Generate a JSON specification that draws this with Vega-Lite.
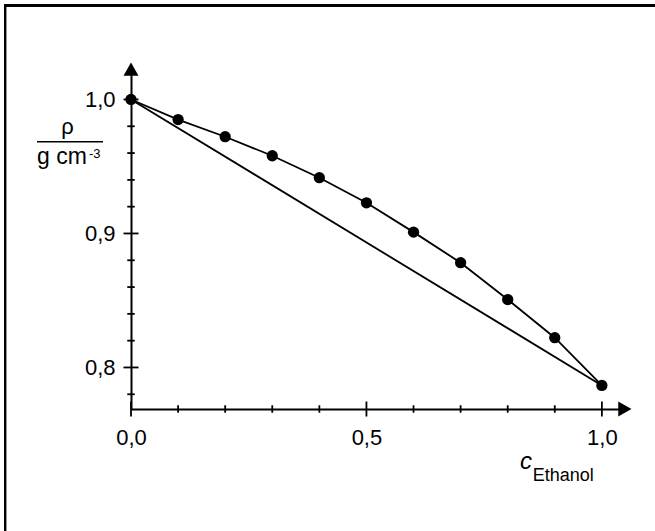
{
  "$schema": "https://vega.github.io/schema/vega-lite/v6.json",
  "width": 493,
  "height": 339,
  "autosize": {"type": "none"},
  "padding": {"left": 131, "top": 70, "right": 31, "bottom": 122},
  "background": "white",
  "config": {
    "view": {"stroke": null},
    "font": "Liberation Sans",
    "axis": {
      "title": null, "grid": false, "ticks": false, "tickSize": 0,
      "domain": true, "domainColor": "black", "domainWidth": 2,
      "labelFont": "Liberation Sans", "labelFontSize": 22, "labelColor": "black",
      "labelFlush": false, "labelOverlap": false, "labelBound": false
    },
    "axisX": {"labelPadding": 18},
    "axisY": {"labelPadding": 16}
  },
  "datasets": {
    "pts": [
      {"c": 0.0, "rho": 1.0, "series": "measured"},
      {"c": 0.1, "rho": 0.985, "series": "measured"},
      {"c": 0.2, "rho": 0.9722, "series": "measured"},
      {"c": 0.3, "rho": 0.9580, "series": "measured"},
      {"c": 0.4, "rho": 0.9416, "series": "measured"},
      {"c": 0.5, "rho": 0.9229, "series": "measured"},
      {"c": 0.6, "rho": 0.9010, "series": "measured"},
      {"c": 0.7, "rho": 0.8782, "series": "measured"},
      {"c": 0.8, "rho": 0.8507, "series": "measured"},
      {"c": 0.9, "rho": 0.8222, "series": "measured"},
      {"c": 1.0, "rho": 0.7866, "series": "measured"},
      {"c": 0.0, "rho": 1.0, "series": "linear"},
      {"c": 1.0, "rho": 0.7866, "series": "linear"}
    ],
    "yticks": [
      {"v": 0.78, "kind": "minor"},
      {"v": 0.80, "kind": "major"},
      {"v": 0.82, "kind": "minor"},
      {"v": 0.84, "kind": "minor"},
      {"v": 0.86, "kind": "minor"},
      {"v": 0.88, "kind": "minor"},
      {"v": 0.90, "kind": "major"},
      {"v": 0.92, "kind": "minor"},
      {"v": 0.94, "kind": "minor"},
      {"v": 0.96, "kind": "minor"},
      {"v": 0.98, "kind": "minor"},
      {"v": 1.00, "kind": "major"}
    ],
    "xticks": [
      {"v": 0.0, "kind": "major"},
      {"v": 0.1, "kind": "minor"},
      {"v": 0.2, "kind": "minor"},
      {"v": 0.3, "kind": "minor"},
      {"v": 0.4, "kind": "minor"},
      {"v": 0.5, "kind": "major"},
      {"v": 0.6, "kind": "minor"},
      {"v": 0.7, "kind": "minor"},
      {"v": 0.8, "kind": "minor"},
      {"v": 0.9, "kind": "minor"},
      {"v": 1.0, "kind": "major"}
    ]
  },
  "layer": [
    {
      "data": {"name": "pts"},
      "mark": {"type": "line", "color": "black", "strokeWidth": 1.8, "clip": false},
      "encoding": {
        "x": {
          "field": "c", "type": "quantitative",
          "scale": {"domain": [0, 1.047], "nice": false, "zero": false},
          "axis": {
            "values": [0, 0.5, 1.0],
            "labelExpr": "replace(format(datum.value, '.1f'), '.', ',')"
          }
        },
        "y": {
          "field": "rho", "type": "quantitative",
          "scale": {"domain": [0.769, 1.022], "nice": false, "zero": false},
          "axis": {
            "values": [0.8, 0.9, 1.0],
            "labelExpr": "replace(format(datum.value, '.1f'), '.', ',')"
          }
        },
        "detail": {"field": "series", "type": "nominal"},
        "order": {"field": "c", "type": "quantitative"}
      }
    },
    {
      "data": {"name": "pts"},
      "mark": {"type": "rect", "fill": null, "stroke": "black", "strokeWidth": 2, "clip": false},
      "encoding": {
        "x": {"datum": -0.2675, "type": "quantitative", "scale": {"domain": [0, 1.047], "nice": false, "zero": false}},
        "x2": {"datum": 2},
        "y": {"datum": 1.0703, "type": "quantitative", "scale": {"domain": [0.769, 1.022], "nice": false, "zero": false}},
        "y2": {"datum": 0.3}
      }
    },
    {
      "data": {"name": "pts"},
      "transform": [{"filter": "datum.series === 'measured'"}],
      "mark": {"type": "point", "filled": true, "shape": "circle", "size": 127, "color": "black", "opacity": 1, "clip": false},
      "encoding": {
        "x": {"field": "c", "type": "quantitative", "scale": {"domain": [0, 1.047], "nice": false, "zero": false}},
        "y": {"field": "rho", "type": "quantitative", "scale": {"domain": [0.769, 1.022], "nice": false, "zero": false}}
      }
    },
    {
      "data": {"name": "yticks"},
      "mark": {"type": "point", "shape": "M-1,0L1,0", "filled": false, "stroke": "black", "strokeWidth": 1.8, "opacity": 1, "clip": false},
      "encoding": {
        "x": {"datum": 0, "type": "quantitative", "scale": {"domain": [0, 1.047], "nice": false, "zero": false}},
        "y": {"field": "v", "type": "quantitative", "scale": {"domain": [0.769, 1.022], "nice": false, "zero": false}},
        "size": {"field": "kind", "type": "nominal", "scale": {"domain": ["major", "minor"], "range": [225, 56]}, "legend": null}
      }
    },
    {
      "data": {"name": "xticks"},
      "mark": {"type": "point", "shape": "M0,-1L0,1", "filled": false, "stroke": "black", "strokeWidth": 1.8, "opacity": 1, "clip": false},
      "encoding": {
        "x": {"field": "v", "type": "quantitative", "scale": {"domain": [0, 1.047], "nice": false, "zero": false}},
        "y": {"datum": 0.769, "type": "quantitative", "scale": {"domain": [0.769, 1.022], "nice": false, "zero": false}},
        "size": {"field": "kind", "type": "nominal", "scale": {"domain": ["major", "minor"], "range": [225, 56]}, "legend": null}
      }
    },
    {
      "data": {"values": [{}]},
      "mark": {"type": "point", "shape": "M0,-1L1,0.77L-1,0.77Z", "filled": true, "color": "black", "size": 225, "opacity": 1, "clip": false},
      "encoding": {
        "x": {"datum": 0, "type": "quantitative", "scale": {"domain": [0, 1.047], "nice": false, "zero": false}},
        "y": {"datum": 1.022, "type": "quantitative", "scale": {"domain": [0.769, 1.022], "nice": false, "zero": false}}
      }
    },
    {
      "data": {"values": [{}]},
      "mark": {"type": "point", "shape": "M1,0L-0.77,1L-0.77,-1Z", "filled": true, "color": "black", "size": 225, "opacity": 1, "clip": false},
      "encoding": {
        "x": {"datum": 1.047, "type": "quantitative", "scale": {"domain": [0, 1.047], "nice": false, "zero": false}},
        "y": {"datum": 0.769, "type": "quantitative", "scale": {"domain": [0.769, 1.022], "nice": false, "zero": false}}
      }
    },
    {
      "data": {"values": [{}]},
      "mark": {"type": "rule", "color": "black", "strokeWidth": 1.5, "clip": false},
      "encoding": {
        "x": {"datum": -0.1996, "type": "quantitative", "scale": {"domain": [0, 1.047], "nice": false, "zero": false}},
        "x2": {"datum": -0.0594},
        "y": {"datum": 0.9684, "type": "quantitative", "scale": {"domain": [0.769, 1.022], "nice": false, "zero": false}}
      }
    },
    {
      "data": {"values": [{}]},
      "mark": {"type": "text", "text": "ρ", "font": "Liberation Sans", "fontSize": 22, "align": "center", "baseline": "alphabetic", "color": "black", "clip": false},
      "encoding": {
        "x": {"datum": -0.1348, "type": "quantitative", "scale": {"domain": [0, 1.047], "nice": false, "zero": false}},
        "y": {"datum": 0.9746, "type": "quantitative", "scale": {"domain": [0.769, 1.022], "nice": false, "zero": false}}
      }
    },
    {
      "data": {"values": [{}]},
      "mark": {"type": "text", "text": "g cm", "font": "Liberation Sans", "fontSize": 23, "align": "left", "baseline": "alphabetic", "color": "black", "clip": false},
      "encoding": {
        "x": {"datum": -0.1996, "type": "quantitative", "scale": {"domain": [0, 1.047], "nice": false, "zero": false}},
        "y": {"datum": 0.9522, "type": "quantitative", "scale": {"domain": [0.769, 1.022], "nice": false, "zero": false}}
      }
    },
    {
      "data": {"values": [{}]},
      "mark": {"type": "text", "text": "-3", "font": "Liberation Sans", "fontSize": 13, "align": "left", "baseline": "alphabetic", "color": "black", "clip": false},
      "encoding": {
        "x": {"datum": -0.0892, "type": "quantitative", "scale": {"domain": [0, 1.047], "nice": false, "zero": false}},
        "y": {"datum": 0.956, "type": "quantitative", "scale": {"domain": [0.769, 1.022], "nice": false, "zero": false}}
      }
    },
    {
      "data": {"values": [{}]},
      "mark": {"type": "text", "text": "c", "font": "Liberation Sans", "fontSize": 24, "fontStyle": "italic", "align": "left", "baseline": "alphabetic", "color": "black", "clip": false},
      "encoding": {
        "x": {"datum": 0.8259, "type": "quantitative", "scale": {"domain": [0, 1.047], "nice": false, "zero": false}},
        "y": {"datum": 0.7239, "type": "quantitative", "scale": {"domain": [0.769, 1.022], "nice": false, "zero": false}}
      }
    },
    {
      "data": {"values": [{}]},
      "mark": {"type": "text", "text": "Ethanol", "font": "Liberation Sans", "fontSize": 18, "align": "left", "baseline": "alphabetic", "color": "black", "clip": false},
      "encoding": {
        "x": {"datum": 0.853, "type": "quantitative", "scale": {"domain": [0, 1.047], "nice": false, "zero": false}},
        "y": {"datum": 0.7154, "type": "quantitative", "scale": {"domain": [0.769, 1.022], "nice": false, "zero": false}}
      }
    }
  ]
}
